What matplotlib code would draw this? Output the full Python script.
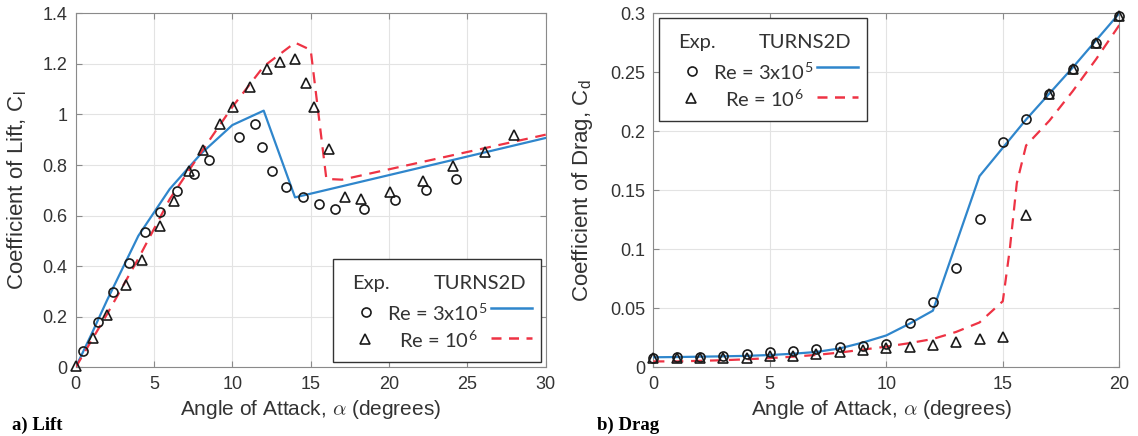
import numpy as np
import matplotlib
matplotlib.use("Agg")
from matplotlib import pyplot as plt
from matplotlib.lines import Line2D
from matplotlib.patches import Rectangle
from matplotlib.ticker import FormatStrFormatter

plt.rcParams['font.family'] = ['Liberation Sans', 'DejaVu Sans']
plt.rcParams['mathtext.fontset'] = 'cm'

# lift, experiment
lift_exp3_aoa = [0.48, 1.43, 2.41, 3.39, 4.42, 5.37, 6.49, 7.58, 8.51, 10.43, 11.43,
                 11.86, 12.5, 13.43, 14.5, 15.52, 16.55, 18.42, 20.35, 22.35, 24.29]
lift_exp3_cl = [0.063, 0.178, 0.298, 0.414, 0.534, 0.616, 0.696, 0.766, 0.821, 0.910, 0.962,
                0.873, 0.775, 0.713, 0.672, 0.646, 0.627, 0.627, 0.662, 0.701, 0.745]
lift_exp6_aoa = [0, 1.09, 2.0, 3.19, 4.21, 5.35, 6.28, 7.26, 8.15, 9.24, 10.06, 11.13, 12.2,
                 13.07, 13.98, 14.68, 15.21, 16.16, 17.2, 18.21, 20.08, 22.15, 24.08, 26.15, 27.95]
lift_exp6_cl = [0.004, 0.116, 0.206, 0.326, 0.426, 0.560, 0.656, 0.775, 0.858, 0.962, 1.03, 1.109,
                1.181, 1.207, 1.219, 1.126, 1.03, 0.862, 0.675, 0.666, 0.692, 0.738, 0.798, 0.853, 0.920]

# lift, TURNS2D
lift_cfd3_aoa = [0, 1, 2, 4, 6, 8, 10, 12, 14, 30]
lift_cfd3_cl = [0, 0.13, 0.265, 0.52, 0.705, 0.845, 0.958, 1.015, 0.672, 0.907]
lift_cfd6_aoa = [0, 2, 4, 6, 8, 10, 12, 14, 15, 16, 17, 30]
lift_cfd6_cl = [0, 0.21, 0.43, 0.665, 0.85, 1.03, 1.19, 1.284, 1.255, 0.745, 0.742, 0.92]

# drag, experiment
drag_exp_aoa = list(range(21))
drag_exp3_cd = [0.0079, 0.0085, 0.0085, 0.0099, 0.0113, 0.0133, 0.0141, 0.0152, 0.0169, 0.0183, 0.0198,
                0.0375, 0.055, 0.0844, 0.1256, 0.1908, 0.2103, 0.2314, 0.2526, 0.2746, 0.298]
drag_exp6_cd = [0.008, 0.0082, 0.008, 0.0076, 0.008, 0.0093, 0.0099, 0.0113, 0.013, 0.0144, 0.016,
                0.0172, 0.019, 0.0214, 0.0237, 0.0257, 0.129, 0.2314, 0.2526, 0.2746, 0.298]

# drag, TURNS2D
drag_cfd3_aoa = list(range(21))
drag_cfd3_cd = [0.0085, 0.0087, 0.009, 0.0093, 0.0097, 0.0104, 0.0115, 0.013, 0.016, 0.021, 0.027,
                0.037, 0.048, 0.105, 0.162, 0.186, 0.210, 0.232, 0.254, 0.277, 0.300]
drag_cfd6_aoa = [0, 1, 2, 3, 4, 5, 6, 7, 8, 9, 10, 11, 12, 13, 14, 15, 15.3, 15.6, 16, 17, 18, 19, 20]
drag_cfd6_cd = [0.005, 0.005, 0.0055, 0.006, 0.0068, 0.0078, 0.009, 0.0105, 0.0125, 0.015, 0.0175,
                0.0205, 0.024, 0.030, 0.038, 0.056, 0.10, 0.156, 0.188, 0.209, 0.234, 0.261, 0.29]

blue = '#2f86cc'
red = '#ee3344'
mk = dict(ls='none', mfc='none', mec='#1a1a1a', ms=6.5, mew=1.2)


def style(ax, xt, yt):
    ax.set_xticks(xt)
    ax.set_yticks(yt)
    ax.yaxis.set_major_formatter(FormatStrFormatter('%g'))
    ax.grid(True, color='#e3e3e3', lw=0.8)
    ax.set_axisbelow(True)
    for s in ax.spines.values():
        s.set_color('#8a8a8a')
    ax.tick_params(direction='in', top=True, right=True, length=4, color='#8a8a8a',
                   labelsize=13, labelcolor='#333333', pad=6)


def legend_box(ax, x0, y0, w, h):
    tr = ax.transAxes
    ax.add_patch(Rectangle((x0, y0), w, h, transform=tr, fc='white', ec='#333333',
                           lw=1.0, zorder=6, clip_on=False))

    def p(fx, fy):
        return x0 + fx * w, y0 + h - fy * h

    kw = dict(transform=tr, va='center', ha='left', fontsize=14.5, color='#333333',
              family=['Lato', 'DejaVu Sans'], zorder=7)
    ax.text(*p(0.091, 0.24), 'Exp.', **kw)
    ax.text(*p(0.481, 0.24), 'TURNS2D', **kw)
    ax.text(*p(0.26, 0.53), 'Re = 3x10$^\\mathregular{5}$', **kw)
    ax.text(*p(0.317, 0.79), 'Re = 10$^\\mathregular{6}$', **kw)
    cx, cy = p(0.159, 0.52)
    ax.add_line(Line2D([cx], [cy], marker='o', transform=tr, zorder=7, clip_on=False, **mk))
    tx, ty = p(0.154, 0.78)
    ax.add_line(Line2D([tx], [ty], marker='^', transform=tr, zorder=7, clip_on=False, **mk))
    (a1, b1), (a2, _) = p(0.76, 0.476), p(0.957, 0.476)
    ax.add_line(Line2D([a1, a2], [b1, b1], color=blue, lw=1.8, transform=tr, zorder=7))
    (a1, b2), (a2, _) = p(0.76, 0.77), p(0.957, 0.77)
    ax.add_line(Line2D([a1, a2], [b2, b2], color=red, lw=1.8, ls=(0, (4, 3)),
                       transform=tr, zorder=7))


fig = plt.figure(figsize=(11.38, 4.36), dpi=100)
ax1 = fig.add_axes([75.7 / 1138, (436 - 367.3) / 436, 470 / 1138, 354 / 436])
ax2 = fig.add_axes([653.3 / 1138, (436 - 367.3) / 436, 466 / 1138, 354 / 436])

# lift
ax1.plot(lift_cfd3_aoa, lift_cfd3_cl, color=blue, lw=1.6, zorder=3)
ax1.plot(lift_cfd6_aoa, lift_cfd6_cl, color=red, lw=1.6, ls=(0, (5, 3.5)), zorder=3)
ax1.plot(lift_exp3_aoa, lift_exp3_cl, marker='o', clip_on=False, zorder=4, **mk)
ax1.plot(lift_exp6_aoa, lift_exp6_cl, marker='^', clip_on=False, zorder=4, **mk)
ax1.set_xlim(0, 30)
ax1.set_ylim(0, 1.4)
style(ax1, np.arange(0, 31, 5), np.arange(0, 1.41, 0.2))
ax1.set_xlabel('Angle of Attack, $\\alpha$ (degrees)', fontsize=15, color='#333333')
ax1.set_ylabel('Coefficient of Lift, C$_\\mathregular{l}$', fontsize=16, color='#333333')
ax1.xaxis.set_label_coords(0.5, -0.088)
ax1.yaxis.set_label_coords(-0.099, 0.5)
legend_box(ax1, 0.548, 0.016, 208 / 470, 103 / 354)

# drag
ax2.plot(drag_cfd3_aoa, drag_cfd3_cd, color=blue, lw=1.6, zorder=3)
ax2.plot(drag_cfd6_aoa, drag_cfd6_cd, color=red, lw=1.6, ls=(0, (5, 3.5)), zorder=3)
ax2.plot(drag_exp_aoa, drag_exp3_cd, marker='o', clip_on=False, zorder=4, **mk)
ax2.plot(drag_exp_aoa, drag_exp6_cd, marker='^', clip_on=False, zorder=4, **mk)
ax2.set_xlim(0, 20)
ax2.set_ylim(0, 0.3)
style(ax2, np.arange(0, 21, 5), np.arange(0, 0.301, 0.05))
ax2.set_xlabel('Angle of Attack, $\\alpha$ (degrees)', fontsize=15, color='#333333')
ax2.set_ylabel('Coefficient of Drag, C$_\\mathregular{d}$', fontsize=16, color='#333333')
ax2.xaxis.set_label_coords(0.49, -0.088)
ax2.yaxis.set_label_coords(-0.125, 0.5)
legend_box(ax2, 0.0118, 0.697, 208 / 466, 103 / 354)

fig.text(12.5 / 1138, 1 - 425 / 436, 'a) Lift', family='Liberation Serif', weight='bold',
         fontsize=13.5, va='center', ha='left')
fig.text(597 / 1138, 1 - 425 / 436, 'b) Drag', family='Liberation Serif', weight='bold',
         fontsize=13.5, va='center', ha='left')

fig.savefig('out.png', dpi=100)
